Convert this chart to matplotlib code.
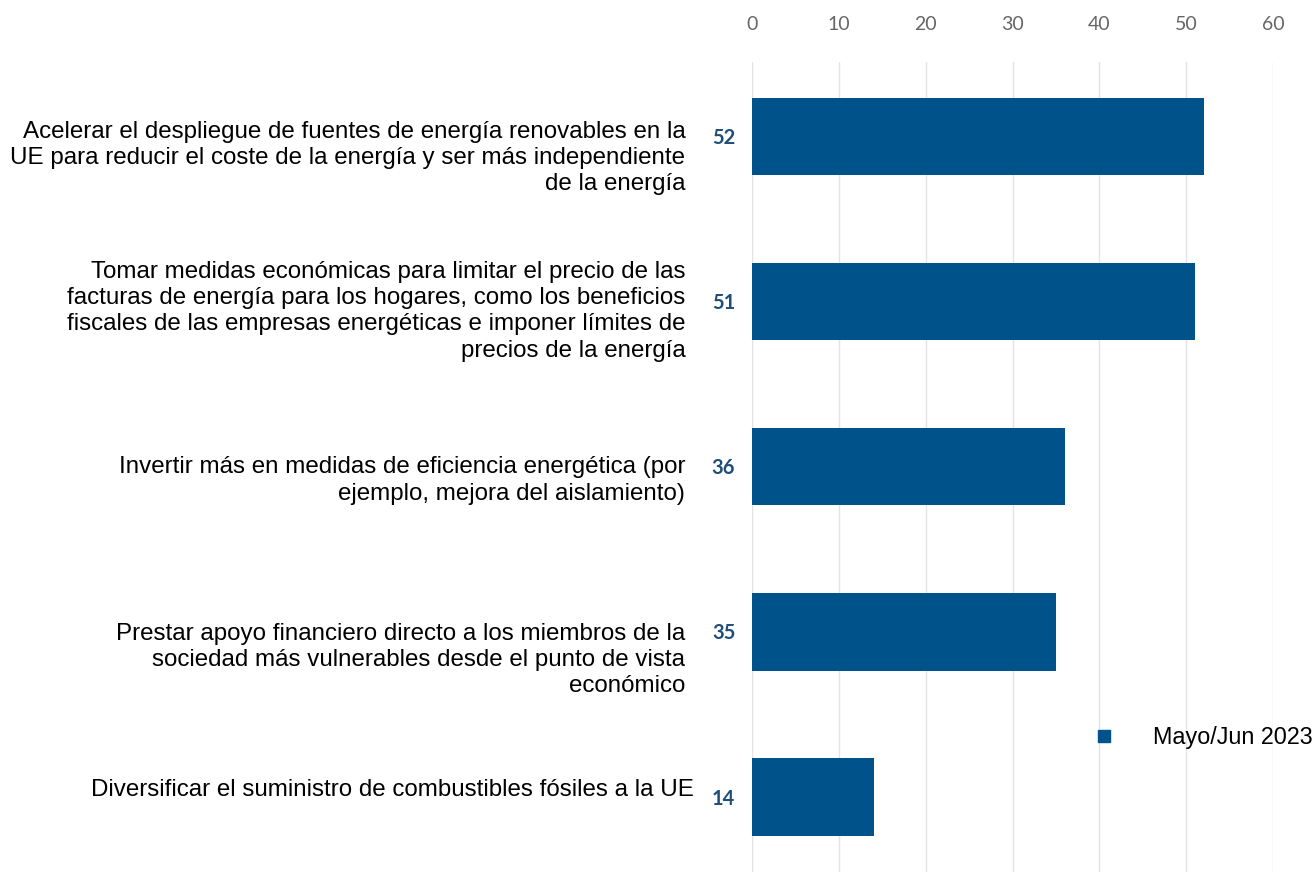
import matplotlib.pyplot as plt
from matplotlib.lines import Line2D

# Datos
categorias = [
    "Acelerar el despliegue de fuentes de energía renovables en la\nUE para reducir el coste de la energía y ser más independiente\nde la energía",
    "Tomar medidas económicas para limitar el precio de las\nfacturas de energía para los hogares, como los beneficios\nfiscales de las empresas energéticas e imponer límites de\nprecios de la energía",
    "Invertir más en medidas de eficiencia energética (por\nejemplo, mejora del aislamiento)",
    "Prestar apoyo financiero directo a los miembros de la\nsociedad más vulnerables desde el punto de vista\neconómico",
    "Diversificar el suministro de combustibles fósiles a la UE",
]
valores = [52, 51, 36, 35, 14]
serie = "Mayo/Jun 2023"
ticks = [0, 10, 20, 30, 40, 50, 60]

azul = "#00528a"
azul_texto = "#1f4e79"

fig = plt.figure(figsize=(13.16, 8.72), dpi=100)
ax = fig.add_axes([752 / 1316, 0, 521 / 1316, 1 - 62 / 872])

y = list(range(len(valores)))
ax.barh(y, valores, height=0.47, color=azul)

ax.set_xlim(0, 60)
ax.set_ylim(4.455, -0.45)
ax.set_xticks(ticks)
ax.xaxis.tick_top()
ax.tick_params(axis="x", length=0, pad=21, labelsize=14, labelcolor="#666666")
for lab in ax.get_xticklabels():
    lab.set_family("Lato")
ax.set_yticks([])
ax.grid(axis="x", color="#e3e3e3", linewidth=1)
ax.set_axisbelow(True)
for s in ["top", "right", "bottom", "left"]:
    ax.spines[s].set_visible(False)
ax.axvline(0, color="#d0d0d0", linewidth=1.5, zorder=0)

# desplazamiento vertical (y horizontal, en puntos) de cada etiqueta
desp = [0.13, 0.06, 0.085, 0.17, -0.04]
desp_x = [-48, -48, -48, -48, -42]
for i, (cat, v) in enumerate(zip(categorias, valores)):
    ax.annotate(str(v), xy=(0, i + 0.01), xytext=(-12, 0), textcoords="offset points",
                ha="right", va="center", fontsize=14.5, fontweight="bold",
                color=azul_texto, family="Lato")
    ax.annotate(cat, xy=(0, i + desp[i]), xytext=(desp_x[i], 0), textcoords="offset points",
                ha="right", va="center", fontsize=17.4, color="black",
                family="Liberation Sans", linespacing=1.25, annotation_clip=False)

ax.legend([Line2D([], [], marker="s", linestyle="none", color=azul, markersize=9)],
          [serie], loc="upper left", bbox_to_anchor=(0.612, 0.192),
          frameon=False, prop={"family": "Liberation Sans", "size": 16.8},
          handletextpad=1.1, borderaxespad=0)

fig.savefig("out.png", dpi=100)
